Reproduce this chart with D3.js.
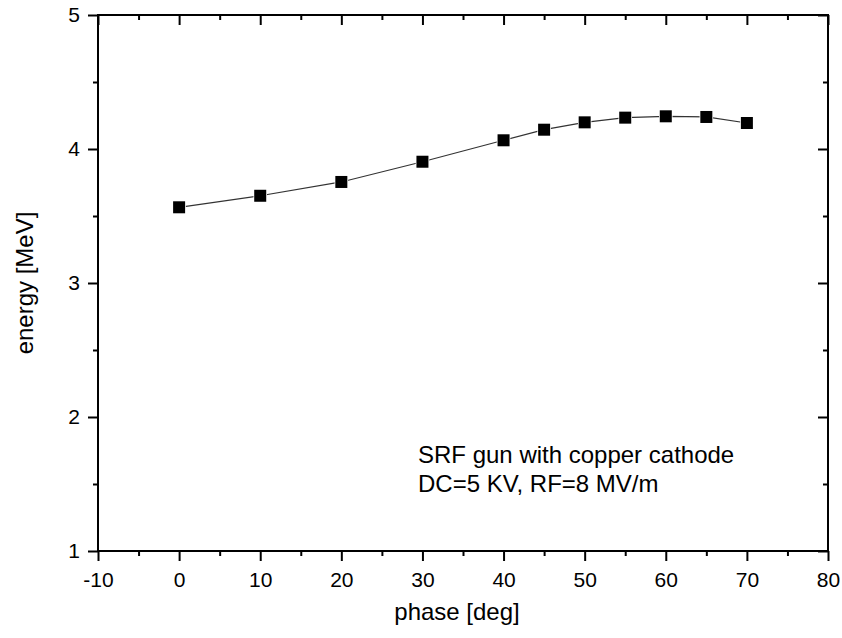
<!DOCTYPE html>
<html>
<head>
<meta charset="utf-8">
<script src="https://cdn.jsdelivr.net/npm/d3@7"></script>
<style>
  body { margin: 0; background: #fff; }
  svg { font-family: "Liberation Sans", Arial, sans-serif; }
</style>
</head>
<body>
<svg id="chart" width="842" height="638"></svg>
<script>
// data
const phase = [0, 10, 20, 30, 40, 45, 50, 55, 60, 65, 70];
const energy = [3.565, 3.651, 3.754, 3.905, 4.065, 4.144, 4.199, 4.234, 4.244, 4.239, 4.194];
const xTicks = [-10, 0, 10, 20, 30, 40, 50, 60, 70, 80];
const yTicks = [1, 2, 3, 4, 5];
const notes = ['SRF gun with copper cathode', 'DC=5 KV, RF=8 MV/m'];

const margin = { left: 98, right: 14, top: 15, bottom: 87 };
const width = 842 - margin.left - margin.right;
const height = 638 - margin.top - margin.bottom;

const svg = d3.select('#chart');
const g = svg.append('g').attr('transform', `translate(${margin.left}, ${margin.top})`);

const x = d3.scaleLinear().domain([-10, 80]).range([0, width]);
const y = d3.scaleLinear().domain([1, 5]).range([height, 0]);

const xMinor = d3.range(-5, 80, 10);
const yMinor = d3.range(1.5, 5, 1);
const plain = d => String(d);

function styleAxis(sel) {
  sel.select('.domain').remove();
  sel.selectAll('line').attr('stroke', '#000').attr('stroke-width', 2);
  sel.selectAll('text').attr('fill', '#000').style('font-size', '21px');
}

// bottom axis (outward ticks)
g.append('g').attr('transform', `translate(0, ${height})`)
  .call(d3.axisBottom(x).tickValues(xTicks).tickSize(10).tickPadding(11).tickFormat(plain))
  .call(styleAxis);
g.append('g').attr('transform', `translate(0, ${height})`)
  .call(d3.axisBottom(x).tickValues(xMinor).tickSize(5).tickFormat(''))
  .call(styleAxis);

// top axis (inward ticks)
g.append('g')
  .call(d3.axisTop(x).tickValues(xTicks).tickSize(-10).tickFormat(''))
  .call(styleAxis);
g.append('g')
  .call(d3.axisTop(x).tickValues(xMinor).tickSize(-5).tickFormat(''))
  .call(styleAxis);

// left axis (outward ticks)
g.append('g')
  .call(d3.axisLeft(y).tickValues(yTicks).tickSize(10).tickPadding(8).tickFormat(plain))
  .call(styleAxis);
g.append('g')
  .call(d3.axisLeft(y).tickValues(yMinor).tickSize(5).tickFormat(''))
  .call(styleAxis);

// right axis (inward ticks)
g.append('g').attr('transform', `translate(${width}, 0)`)
  .call(d3.axisRight(y).tickValues(yTicks).tickSize(-10).tickFormat(''))
  .call(styleAxis);
g.append('g').attr('transform', `translate(${width}, 0)`)
  .call(d3.axisRight(y).tickValues(yMinor).tickSize(-5).tickFormat(''))
  .call(styleAxis);

// frame
g.append('rect')
  .attr('width', width).attr('height', height)
  .attr('fill', 'none').attr('stroke', '#000').attr('stroke-width', 2);

const points = phase.map((p, i) => ({ p, e: energy[i] }));

// line
g.append('path')
  .datum(points)
  .attr('fill', 'none')
  .attr('stroke', '#333')
  .attr('stroke-width', 1.2)
  .attr('d', d3.line().x(d => x(d.p)).y(d => y(d.e)));

// markers
const sq = 12;
g.selectAll('rect.pt')
  .data(points)
  .join('rect')
  .attr('class', 'pt')
  .attr('x', d => x(d.p) - sq / 2)
  .attr('y', d => y(d.e) - sq / 2)
  .attr('width', sq).attr('height', sq)
  .attr('fill', '#000')
  .attr('stroke', '#fff')
  .attr('stroke-width', 1.5)
  .attr('paint-order', 'stroke');

// annotation
svg.append('text')
  .attr('x', 418).attr('y', 463)
  .style('font-size', '24px')
  .selectAll('tspan')
  .data(notes)
  .join('tspan')
  .attr('x', 418)
  .attr('dy', (d, i) => i ? 29 : 0)
  .text(d => d);

// axis titles
svg.append('text')
  .attr('x', 457).attr('y', 620)
  .attr('text-anchor', 'middle')
  .style('font-size', '24px')
  .text('phase [deg]');

svg.append('text')
  .attr('transform', 'translate(33, 283) rotate(-90)')
  .attr('text-anchor', 'middle')
  .style('font-size', '24px')
  .text('energy [MeV]');
</script>
</body>
</html>
